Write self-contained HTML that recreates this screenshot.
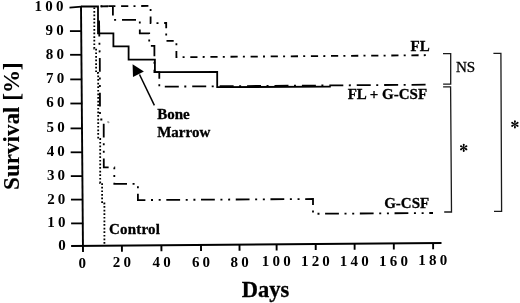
<!DOCTYPE html>
<html><head><meta charset="utf-8"><style>
html,body{margin:0;padding:0;background:#fff;overflow:hidden;}
svg{display:block;will-change:transform;}
text{fill:#000;stroke:#000;stroke-width:0.3px;}
text.t{stroke:none;}
text.s{stroke-width:0.1px;}
</style></head><body>
<svg width="520" height="303" viewBox="0 0 520 303">
<line x1="81.00" y1="6.00" x2="83.00" y2="251.90" stroke="#000" stroke-width="1.9"/>
<line x1="71.10" y1="246.05" x2="441.50" y2="243.10" stroke="#000" stroke-width="2.0"/>
<line x1="69.50" y1="7.60" x2="81.50" y2="6.60" stroke="#000" stroke-width="1.8"/>
<line x1="69.94" y1="31.10" x2="81.70" y2="31.10" stroke="#000" stroke-width="1.8"/>
<line x1="70.09" y1="54.80" x2="81.90" y2="54.80" stroke="#000" stroke-width="1.8"/>
<line x1="70.23" y1="79.40" x2="82.10" y2="79.40" stroke="#000" stroke-width="1.8"/>
<line x1="70.38" y1="103.50" x2="82.29" y2="103.50" stroke="#000" stroke-width="1.8"/>
<line x1="70.53" y1="128.40" x2="82.49" y2="128.40" stroke="#000" stroke-width="1.8"/>
<line x1="70.67" y1="152.30" x2="82.69" y2="152.30" stroke="#000" stroke-width="1.8"/>
<line x1="70.81" y1="176.10" x2="82.88" y2="176.10" stroke="#000" stroke-width="1.8"/>
<line x1="70.96" y1="199.60" x2="83.07" y2="199.60" stroke="#000" stroke-width="1.8"/>
<line x1="71.10" y1="223.40" x2="83.27" y2="223.40" stroke="#000" stroke-width="1.8"/>
<line x1="121.90" y1="245.65" x2="121.94" y2="251.65" stroke="#000" stroke-width="1.9"/>
<line x1="161.40" y1="245.33" x2="161.44" y2="251.33" stroke="#000" stroke-width="1.9"/>
<line x1="201.00" y1="245.02" x2="201.04" y2="251.02" stroke="#000" stroke-width="1.9"/>
<line x1="239.50" y1="244.71" x2="239.54" y2="250.71" stroke="#000" stroke-width="1.9"/>
<line x1="276.60" y1="244.41" x2="276.64" y2="250.41" stroke="#000" stroke-width="1.9"/>
<line x1="315.70" y1="244.10" x2="315.74" y2="250.10" stroke="#000" stroke-width="1.9"/>
<line x1="354.60" y1="243.79" x2="354.64" y2="249.79" stroke="#000" stroke-width="1.9"/>
<line x1="393.80" y1="243.48" x2="393.84" y2="249.48" stroke="#000" stroke-width="1.9"/>
<line x1="433.10" y1="243.17" x2="433.14" y2="249.17" stroke="#000" stroke-width="1.9"/>
<text x="34.57" y="11.10" font-family='"Liberation Serif", serif' font-size="15.0" font-weight="bold" letter-spacing="3.2" text-anchor="start" class="t">100</text>
<text x="45.50" y="35.00" font-family='"Liberation Serif", serif' font-size="15.0" font-weight="bold" letter-spacing="3.2" text-anchor="start" class="t">90</text>
<text x="45.73" y="58.70" font-family='"Liberation Serif", serif' font-size="15.0" font-weight="bold" letter-spacing="3.2" text-anchor="start" class="t">80</text>
<text x="45.97" y="83.30" font-family='"Liberation Serif", serif' font-size="15.0" font-weight="bold" letter-spacing="3.2" text-anchor="start" class="t">70</text>
<text x="46.20" y="107.40" font-family='"Liberation Serif", serif' font-size="15.0" font-weight="bold" letter-spacing="3.2" text-anchor="start" class="t">60</text>
<text x="46.44" y="132.30" font-family='"Liberation Serif", serif' font-size="15.0" font-weight="bold" letter-spacing="3.2" text-anchor="start" class="t">50</text>
<text x="46.68" y="156.20" font-family='"Liberation Serif", serif' font-size="15.0" font-weight="bold" letter-spacing="3.2" text-anchor="start" class="t">40</text>
<text x="46.91" y="180.00" font-family='"Liberation Serif", serif' font-size="15.0" font-weight="bold" letter-spacing="3.2" text-anchor="start" class="t">30</text>
<text x="47.14" y="203.50" font-family='"Liberation Serif", serif' font-size="15.0" font-weight="bold" letter-spacing="3.2" text-anchor="start" class="t">20</text>
<text x="47.37" y="227.30" font-family='"Liberation Serif", serif' font-size="15.0" font-weight="bold" letter-spacing="3.2" text-anchor="start" class="t">10</text>
<text x="58.29" y="249.90" font-family='"Liberation Serif", serif' font-size="15.0" font-weight="bold" letter-spacing="3.2" text-anchor="start" class="t">0</text>
<text x="112.77" y="267.35" font-family='"Liberation Serif", serif' font-size="15.0" font-weight="bold" letter-spacing="3.2" text-anchor="start" class="t">20</text>
<text x="152.48" y="267.11" font-family='"Liberation Serif", serif' font-size="15.0" font-weight="bold" letter-spacing="3.2" text-anchor="start" class="t">40</text>
<text x="191.93" y="266.86" font-family='"Liberation Serif", serif' font-size="15.0" font-weight="bold" letter-spacing="3.2" text-anchor="start" class="t">60</text>
<text x="230.44" y="266.62" font-family='"Liberation Serif", serif' font-size="15.0" font-weight="bold" letter-spacing="3.2" text-anchor="start" class="t">80</text>
<text x="261.84" y="266.39" font-family='"Liberation Serif", serif' font-size="15.0" font-weight="bold" letter-spacing="3.2" text-anchor="start" class="t">100</text>
<text x="300.94" y="266.15" font-family='"Liberation Serif", serif' font-size="15.0" font-weight="bold" letter-spacing="3.2" text-anchor="start" class="t">120</text>
<text x="339.84" y="265.91" font-family='"Liberation Serif", serif' font-size="15.0" font-weight="bold" letter-spacing="3.2" text-anchor="start" class="t">140</text>
<text x="379.04" y="265.67" font-family='"Liberation Serif", serif' font-size="15.0" font-weight="bold" letter-spacing="3.2" text-anchor="start" class="t">160</text>
<text x="418.34" y="265.42" font-family='"Liberation Serif", serif' font-size="15.0" font-weight="bold" letter-spacing="3.2" text-anchor="start" class="t">180</text>
<text x="78.45" y="267.60" font-family='"Liberation Serif", serif' font-size="15.0" font-weight="bold" letter-spacing="3.2" text-anchor="start" class="t">0</text>
<polyline points="81.00,6.50 98.00,6.30 98.00,33.40 113.40,33.40 113.40,46.30 128.60,46.30 128.60,59.70 154.90,59.70 154.90,72.20 217.20,72.00 217.20,87.20 330.80,86.60" fill="none" stroke="#000" stroke-width="1.8" stroke-linejoin="miter" stroke-linecap="butt" />
<polyline points="97.50,6.29 112.90,6.10 112.90,19.80 139.80,19.80 139.80,33.40 149.20,33.40 149.20,45.80 154.40,45.80 154.40,72.20 159.30,72.20 159.30,86.70 426.00,84.70" fill="none" stroke="#000" stroke-width="1.8" stroke-linejoin="miter" stroke-linecap="butt" stroke-dasharray="14 5.5 2.0 5.92" stroke-dashoffset="16.621297106079734" />
<polyline points="97.50,6.36 150.60,5.90 150.60,23.10 166.20,23.00 166.20,40.80 176.40,40.80 176.40,57.20 427.00,55.20" fill="none" stroke="#000" stroke-width="1.8" stroke-linejoin="miter" stroke-linecap="butt" stroke-dasharray="7.2 5.2 2.0 5.7" stroke-dashoffset="16.600613098003" />
<line x1="99.05" y1="20.60" x2="99.30" y2="36.60" stroke="#000" stroke-width="1.8"/>
<polyline points="99.29,37.09 99.80,60.00 100.00,119.50 103.70,119.50 103.80,167.40 114.30,167.40 114.30,183.80 137.90,183.80 137.90,200.10 313.00,199.00 313.00,213.80 433.00,213.00" fill="none" stroke="#000" stroke-width="1.8" stroke-linejoin="miter" stroke-linecap="butt" stroke-dasharray="13.8 5.6 2.0 5.7 2.0 5.62" stroke-dashoffset="48.53000000000001" />
<polyline points="94.29,6.30 94.30,6.30 94.30,48.50 96.10,48.50 96.10,73.00 98.20,73.00 98.20,139.00 100.20,139.00 100.20,183.00 102.10,183.00 102.10,203.50 104.40,203.50 104.40,243.80" fill="none" stroke="#000" stroke-width="1.8" stroke-linejoin="miter" stroke-linecap="butt" stroke-dasharray="1.7 1.9" stroke-dashoffset="13.29150254381487" />
<ellipse cx="108.3" cy="122.1" rx="1.3" ry="0.9" transform="rotate(30 108.3 122.1)" fill="#9a9a9a"/>
<line x1="139.50" y1="74.50" x2="154.40" y2="105.40" stroke="#000" stroke-width="1.5"/>
<polygon points="132.6,64.2 133.0,77.0 143.9,71.4" fill="#000"/>
<text x="410.50" y="51.40" font-family='"Liberation Serif", serif' font-size="15" font-weight="bold" letter-spacing="0" text-anchor="start" >FL</text>
<text x="347.70" y="98.80" font-family='"Liberation Serif", serif' font-size="15" font-weight="bold" letter-spacing="0" text-anchor="start" >FL + G-CSF</text>
<text x="384.20" y="208.30" font-family='"Liberation Serif", serif' font-size="15" font-weight="bold" letter-spacing="0" text-anchor="start" >G-CSF</text>
<text x="109.00" y="234.30" font-family='"Liberation Serif", serif' font-size="15" font-weight="bold" letter-spacing="0.2" text-anchor="start" >Control</text>
<text x="157.20" y="118.80" font-family='"Liberation Serif", serif' font-size="15" font-weight="bold" letter-spacing="0" text-anchor="start" >Bone</text>
<text x="157.20" y="137.00" font-family='"Liberation Serif", serif' font-size="15" font-weight="bold" letter-spacing="0" text-anchor="start" >Marrow</text>
<text x="455.90" y="72.10" font-family='"Liberation Serif", serif' font-size="15.1" font-weight="normal" letter-spacing="0" text-anchor="start" >NS</text>
<polygon points="464.05,147.80 464.60,144.60 462.80,144.60 463.35,147.80" fill="#000"/><circle cx="463.70" cy="144.60" r="0.9" fill="#000"/><polygon points="463.88,148.10 466.92,146.98 466.02,145.42 463.52,147.50" fill="#000"/><circle cx="466.47" cy="146.20" r="0.9" fill="#000"/><polygon points="463.88,147.50 461.38,145.42 460.48,146.98 463.52,148.10" fill="#000"/><circle cx="460.93" cy="146.20" r="0.9" fill="#000"/><polygon points="463.35,147.80 462.80,151.00 464.60,151.00 464.05,147.80" fill="#000"/><circle cx="463.70" cy="151.00" r="0.9" fill="#000"/><polygon points="463.52,147.50 460.48,148.62 461.38,150.18 463.88,148.10" fill="#000"/><circle cx="460.93" cy="149.40" r="0.9" fill="#000"/><polygon points="463.52,148.10 466.02,150.18 466.92,148.62 463.88,147.50" fill="#000"/><circle cx="466.47" cy="149.40" r="0.9" fill="#000"/>
<polygon points="515.25,124.30 515.80,121.10 514.00,121.10 514.55,124.30" fill="#000"/><circle cx="514.90" cy="121.10" r="0.9" fill="#000"/><polygon points="515.07,124.60 518.12,123.48 517.22,121.92 514.73,124.00" fill="#000"/><circle cx="517.67" cy="122.70" r="0.9" fill="#000"/><polygon points="515.07,124.00 512.58,121.92 511.68,123.48 514.73,124.60" fill="#000"/><circle cx="512.13" cy="122.70" r="0.9" fill="#000"/><polygon points="514.55,124.30 514.00,127.50 515.80,127.50 515.25,124.30" fill="#000"/><circle cx="514.90" cy="127.50" r="0.9" fill="#000"/><polygon points="514.73,124.00 511.68,125.12 512.58,126.68 515.07,124.60" fill="#000"/><circle cx="512.13" cy="125.90" r="0.9" fill="#000"/><polygon points="514.73,124.60 517.22,126.68 518.12,125.12 515.07,124.00" fill="#000"/><circle cx="517.67" cy="125.90" r="0.9" fill="#000"/>
<text x="241.70" y="297.00" font-family='"Liberation Serif", serif' font-size="22.5" font-weight="bold" letter-spacing="0" text-anchor="start" >Days</text>
<text x="0.00" y="0.00" font-family='"Liberation Serif", serif' font-size="23.1" font-weight="bold" letter-spacing="0" text-anchor="start" class="s" transform="translate(19.4,189.9) rotate(-90)">Survival [%]</text>
<polyline points="443.00,53.60 450.70,53.60 450.70,84.20 443.10,84.20" fill="none" stroke="#1a1a1a" stroke-width="1.3" stroke-linejoin="miter" stroke-linecap="butt" />
<polyline points="443.10,86.90 450.60,86.90 451.50,212.00 444.20,212.00" fill="none" stroke="#1a1a1a" stroke-width="1.3" stroke-linejoin="miter" stroke-linecap="butt" />
<polyline points="493.40,53.30 500.90,53.30 501.60,211.30 494.00,211.30" fill="none" stroke="#1a1a1a" stroke-width="1.3" stroke-linejoin="miter" stroke-linecap="butt" />
</svg>
</body></html>
